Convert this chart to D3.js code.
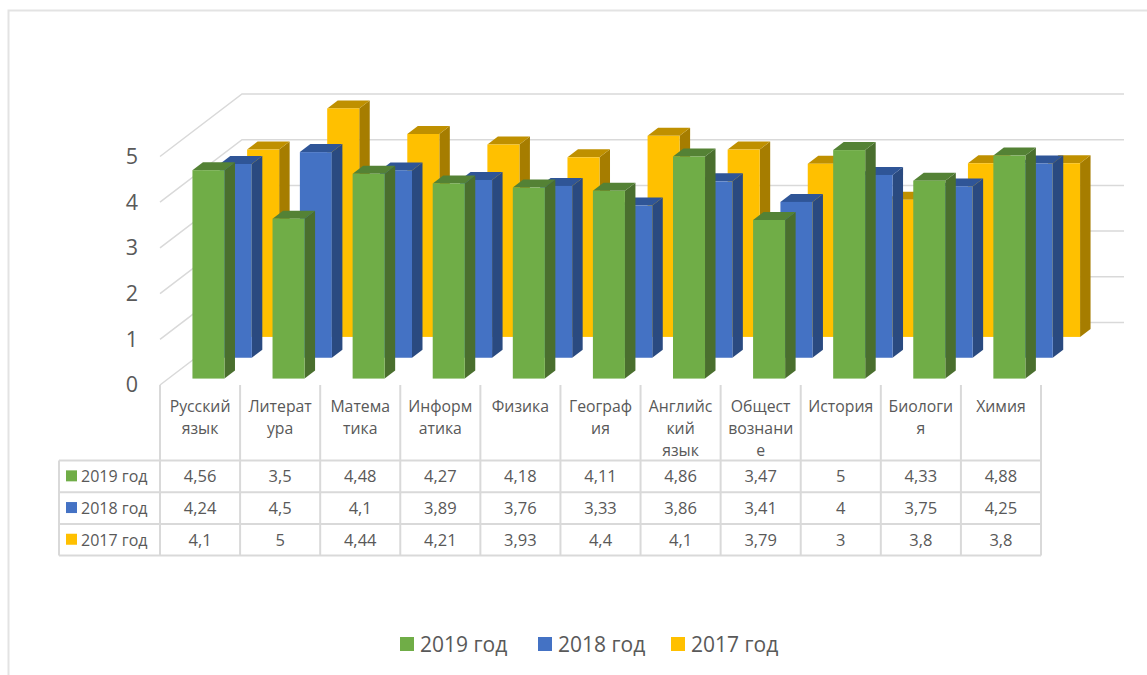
<!DOCTYPE html>
<meta charset="utf-8">
<script src="https://d3js.org/d3.v7.min.js"></script>
<style>
html, body { margin: 0; padding: 0; background: #fff; }
svg { display: block; }
text { font-family: "Open Sans", "Noto Sans", sans-serif; fill: #595959; }
</style>
<div id="chart"></div>
<script>
// chart data
const categories = ["Русский язык", "Литература", "Математика", "Информатика", "Физика", "География",
    "Английский язык", "Обществознание", "История", "Биология", "Химия"];
// the subject names wrap inside their table cells like this
const categoryLines = [["Русский", "язык"], ["Литерат", "ура"], ["Матема", "тика"], ["Информ", "атика"], ["Физика"],
    ["Географ", "ия"], ["Английс", "кий", "язык"], ["Общест", "вознани", "е"], ["История"], ["Биологи", "я"], ["Химия"]];
const seriesNames = ["2019 год", "2018 год", "2017 год"];
const values2019 = [4.56, 3.5, 4.48, 4.27, 4.18, 4.11, 4.86, 3.47, 5, 4.33, 4.88];
const values2018 = [4.24, 4.5, 4.1, 3.89, 3.76, 3.33, 3.86, 3.41, 4, 3.75, 4.25];
const values2017 = [4.1, 5, 4.44, 4.21, 3.93, 4.4, 4.1, 3.79, 3, 3.8, 3.8];
const yTicks = [0, 1, 2, 3, 4, 5];

const seriesValues = [values2019, values2018, values2017];
const colors = [
    {face: "#70ad47", top: "#548235", side: "#4a6f2e"},
    {face: "#4472c4", top: "#2f5597", side: "#2a4a80"},
    {face: "#ffc000", top: "#bf9000", side: "#a67d00"}
];
const ruKomma = d => String(d).replace(".", ",");

const width = 1147, height = 675;
const svg = d3.select("#chart").append("svg").attr("width", width).attr("height", height);

// outer frame of the picture
const frame = "#e3e3e3";
svg.append("path").attr("d", `M8.5,${height}V10.5H${width}`)
    .attr("fill", "none").attr("stroke", frame).attr("stroke-width", 2);

// fake 3d: front plane scales, plus a shear going into the depth
const x = d3.scaleBand().domain(categories).range([160, 1041]).paddingInner(0.6).paddingOuter(0.3);
const y = d3.scaleLinear().domain([0, 5]).range([385, 156.5]);
const z = d3.scaleBand().domain(seriesNames).range([0, 1]).paddingInner(0.616).paddingOuter(0.308);
const depthX = 82, depthY = -62.5;

const grid = "#d9d9d9";
const chart = svg.append("g");

// walls
chart.append("g").selectAll("path").data(yTicks).join("path")
    .attr("d", d => `M${x.range()[0]},${y(d)}l${depthX},${depthY}H1124`)
    .attr("fill", "none").attr("stroke", grid).attr("stroke-width", 1.5);

// bars, back row first
[2, 1, 0].forEach(s => {
    const c = colors[s];
    const d0 = z(seriesNames[s]);
    const dx = d0 * depthX, dy = d0 * depthY;
    const w = x.bandwidth();
    const tx = z.bandwidth() * depthX, ty = z.bandwidth() * depthY;
    const bars = categories.map((cat, i) => ({
        x0: x(cat) + dx, x1: x(cat) + dx + w,
        yTop: y(seriesValues[s][i]) + dy, yBase: y(0) + dy
    }));
    const row = chart.append("g");
    row.selectAll(".side").data(bars).join("path").attr("class", "side")
        .attr("d", b => `M${b.x1},${b.yTop}l${tx},${ty}V${b.yBase + ty}l${-tx},${-ty}Z`)
        .attr("fill", c.side);
    row.selectAll(".top").data(bars).join("path").attr("class", "top")
        .attr("d", b => `M${b.x0},${b.yTop}H${b.x1}l${tx},${ty}H${b.x0 + tx}Z`)
        .attr("fill", c.top);
    row.selectAll(".face").data(bars).join("rect").attr("class", "face")
        .attr("x", b => b.x0).attr("y", b => b.yTop)
        .attr("width", w).attr("height", b => b.yBase - b.yTop)
        .attr("fill", c.face);
});

// y axis
const yAxis = svg.append("g").attr("transform", "translate(138,0)")
    .call(d3.axisLeft(y).tickValues(yTicks).tickSize(0).tickPadding(0).tickFormat(d3.format("d")));
yAxis.select(".domain").remove();
yAxis.selectAll("text").style("font-size", "21.5px").style("font-family", null).attr("fill", null);

// data table under the chart
const colEdges = categories.map(c => x.step() * categories.indexOf(c) + x.range()[0]).concat(x.range()[1]);
const rowTop = 460.5, rowH = 31.7, headTop = 385, tableLeft = 59;
const rowEdges = d3.range(seriesNames.length + 1).map(i => rowTop + i * rowH);
const table = svg.append("g");

table.selectAll(".v").data(colEdges).join("line").attr("class", "v")
    .attr("x1", d => d).attr("x2", d => d)
    .attr("y1", headTop).attr("y2", rowEdges[3])
    .attr("stroke", grid).attr("stroke-width", 2);
table.selectAll(".h").data(rowEdges).join("line").attr("class", "h")
    .attr("x1", tableLeft).attr("x2", colEdges[colEdges.length - 1])
    .attr("y1", d => d).attr("y2", d => d)
    .attr("stroke", grid).attr("stroke-width", 2);
table.append("line").attr("x1", tableLeft).attr("x2", tableLeft)
    .attr("y1", rowEdges[0]).attr("y2", rowEdges[3])
    .attr("stroke", grid).attr("stroke-width", 2);

const colMid = i => colEdges[i] + x.step() / 2;
const header = table.append("g").selectAll("text").data(categoryLines).join("text")
    .attr("text-anchor", "middle").style("font-size", "15.8px");
header.selectAll("tspan").data((d, i) => d.map(t => ({t, i}))).join("tspan")
    .attr("x", d => colMid(d.i))
    .attr("y", (d, j) => 411.5 + j * 22)
    .text(d => d.t);

seriesNames.forEach((name, s) => {
    const mid = rowEdges[s] + rowH / 2;
    table.append("rect").attr("x", 66).attr("y", mid - 6).attr("width", 11).attr("height", 11)
        .attr("fill", colors[s].face);
    table.append("text").attr("x", 81).attr("y", mid + 6).style("font-size", "16px").text(name);
    table.append("g").selectAll("text").data(seriesValues[s]).join("text")
        .attr("x", (d, i) => colMid(i)).attr("y", mid + 6)
        .attr("text-anchor", "middle").style("font-size", "16.5px")
        .text(ruKomma);
});

// legend
const legendX = [400, 538, 671];
const legend = svg.append("g").selectAll("g").data(seriesNames).join("g")
    .attr("transform", (d, i) => `translate(${legendX[i]},637)`);
legend.append("rect").attr("width", 14).attr("height", 14).attr("fill", (d, i) => colors[i].face);
legend.append("text").attr("x", 20).attr("y", 14.7).style("font-size", "21px").text(d => d);
</script>
